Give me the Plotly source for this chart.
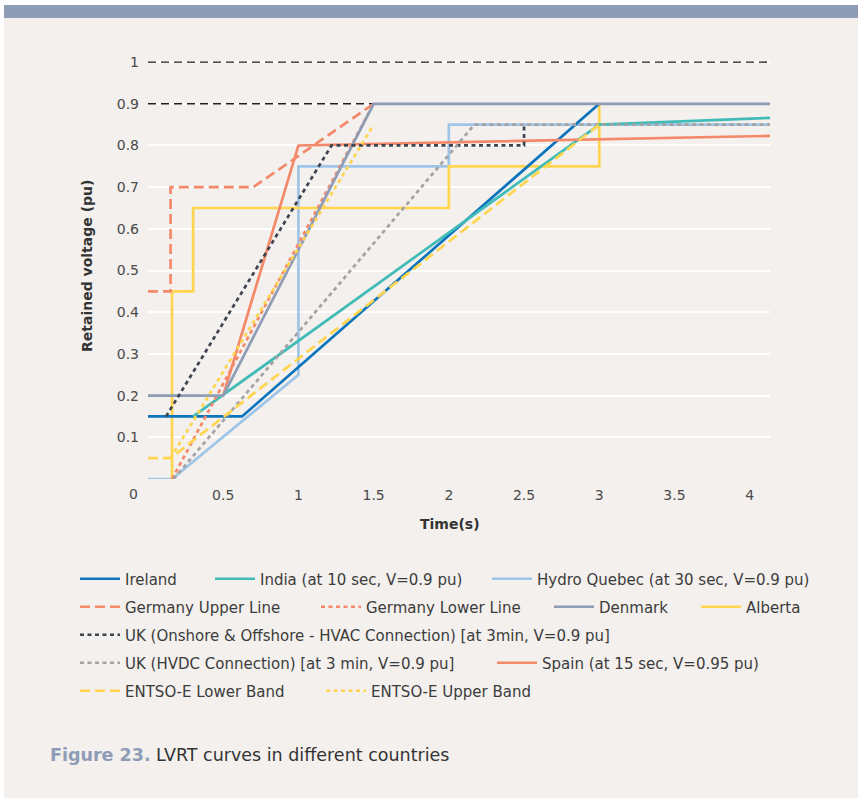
import plotly.graph_objects as go

# ---------------- data (seconds, per-unit voltage) ----------------
X_END = 4.135

ireland_t = [0, 0.625, 3.0]
ireland_v = [0.15, 0.15, 0.90]

india_t = [0.30, 3.0, X_END]
india_v = [0.15, 0.85, 0.866]

hydro_t = [0, 0.16, 1.0, 1.0, 2.0, 2.0, X_END]
hydro_v = [0, 0, 0.25, 0.75, 0.75, 0.85, 0.85]

ger_up_t = [0, 0.15, 0.15, 0.70, 1.50]
ger_up_v = [0.45, 0.45, 0.70, 0.70, 0.90]

ger_low_t = [0.16, 1.50]
ger_low_v = [0.0, 0.90]

denmark_t = [0, 0.5, 1.5, X_END]
denmark_v = [0.20, 0.20, 0.90, 0.90]

alberta_t = [0.16, 0.16, 0.30, 0.30, 2.0, 2.0, 3.0, 3.0]
alberta_v = [0.0, 0.45, 0.45, 0.65, 0.65, 0.75, 0.75, 0.90]

uk_hvac_t = [0.12, 1.22, 2.5, 2.5]
uk_hvac_v = [0.15, 0.80, 0.80, 0.85]

uk_hvdc_t = [0.17, 2.17, X_END]
uk_hvdc_v = [0.0, 0.85, 0.85]

spain_t = [0.5, 1.0, X_END]
spain_v = [0.20, 0.80, 0.823]

entsoe_low_t = [0, 0.15, 3.0]
entsoe_low_v = [0.05, 0.05, 0.85]

entsoe_up_t = [0.15, 1.5]
entsoe_up_v = [0.05, 0.85]

ref_t = [0, X_END]
ref_1 = [1.0, 1.0]
ref_09 = [0.9, 0.9]

x_ticks = [0.5, 1, 1.5, 2, 2.5, 3, 3.5, 4]
x_tick_text = ["0.5", "1", "1.5", "2", "2.5", "3", "3.5", "4"]
y_ticks = [0.1, 0.2, 0.3, 0.4, 0.5, 0.6, 0.7, 0.8, 0.9, 1.0]
y_tick_text = ["0.1", "0.2", "0.3", "0.4", "0.5", "0.6", "0.7", "0.8", "0.9", "1"]

# ---------------- layout geometry ----------------
W, H = 858, 798
PL, PR, PT, PB = 148, 770, 60, 479
BG = "#F3F0ED"
FONT = "DejaVu Sans"

def px_x(px):
    return (px - PL) / (PR - PL)

def px_y(py):
    return (PB - py) / (PB - PT)

BLUE = "#0B74BD"
TEAL = "#41BBB7"
LBLUE = "#9EC4E8"
ORANGE = "#F4896A"
SLATE = "#8E9CB5"
YELLOW = "#FFD54F"
DARK = "#3E4550"
GREY = "#A3A3A3"

LW = 2.7
DASH = "10px,5px"
DOT = "4px,3.5px"

# (name, t, v, color, dash, legend symbol start px, row y px)
series = [
    ("Hydro Quebec (at 30 sec, V=0.9 pu)", hydro_t, hydro_v, LBLUE, "solid", 488, 579),
    ("Alberta", alberta_t, alberta_v, YELLOW, "solid", 697, 607),
    ("Ireland", ireland_t, ireland_v, BLUE, "solid", 76, 579),
    ("India (at 10 sec, V=0.9 pu)", india_t, india_v, TEAL, "solid", 211, 579),
    ("Germany Upper Line", ger_up_t, ger_up_v, ORANGE, DASH, 76, 607),
    ("Germany Lower Line", ger_low_t, ger_low_v, ORANGE, DOT, 317, 607),
    ("Spain (at 15 sec, V=0.95 pu)", spain_t, spain_v, ORANGE, "solid", 493, 663),
    ("Denmark", denmark_t, denmark_v, SLATE, "solid", 550, 607),
    ("UK (Onshore & Offshore - HVAC Connection) [at 3min, V=0.9 pu]", uk_hvac_t, uk_hvac_v, DARK, DOT, 76, 635),
    ("UK (HVDC Connection) [at 3 min, V=0.9 pu]", uk_hvdc_t, uk_hvdc_v, GREY, DOT, 76, 663),
    ("ENTSO-E Lower Band", entsoe_low_t, entsoe_low_v, YELLOW, DASH, 76, 691),
    ("ENTSO-E Upper Band", entsoe_up_t, entsoe_up_v, YELLOW, DOT, 322, 691),
]

fig = go.Figure()

# reference lines (no legend)
for yy in (ref_1, ref_09):
    fig.add_trace(go.Scatter(x=ref_t, y=yy, mode="lines", showlegend=False,
                             hoverinfo="skip",
                             line=dict(color="#1E1E1E", width=1.4, dash="8px,5px")))

LEG_OFF = 1  # legend box left relative to the symbol start
legend_layouts = {}
for i, (name, t, v, color, dash, sx, ry) in enumerate(series):
    key = "legend" if i == 0 else f"legend{i + 1}"
    fig.add_trace(go.Scatter(x=t, y=v, mode="lines", name=name, legend=key,
                             line=dict(color=color, width=LW, dash=dash)))
    legend_layouts[key] = dict(
        x=px_x(sx - LEG_OFF), y=px_y(ry), xanchor="left", yanchor="middle",
        orientation="h", bgcolor="rgba(0,0,0,0)", borderwidth=0,
        itemwidth=40, font=dict(family=FONT, size=15, color="#3C3C3C"),
        itemclick=False, itemdoubleclick=False,
    )

fig.update_layout(
    width=W, height=H,
    margin=dict(l=PL, r=W - PR, t=PT, b=H - PB),
    paper_bgcolor=BG, plot_bgcolor=BG,
    font=dict(family=FONT, color="#4A4A4A"),
    showlegend=True,
    **legend_layouts,
)

fig.update_xaxes(
    range=[0, X_END], tickvals=x_ticks, ticktext=x_tick_text,
    showgrid=False, zeroline=False, showline=False, ticks="",
    tickfont=dict(family=FONT, size=14, color="#4A4A4A"),
    ticklabelstandoff=6, fixedrange=True,
)
fig.update_yaxes(
    range=[0, 1.005], tickvals=[0] + y_ticks, ticktext=[""] + y_tick_text,
    showgrid=True, gridcolor="#FFFFFF", gridwidth=2,
    zeroline=False, showline=False, ticks="",
    tickfont=dict(family=FONT, size=14, color="#4A4A4A"),
    ticklabelstandoff=8, fixedrange=True,
)

annotations = [
    dict(text="0", x=px_x(133), y=px_y(494), xref="paper", yref="paper",
         showarrow=False, xanchor="center", yanchor="middle",
         font=dict(family=FONT, size=14, color="#4A4A4A")),
    dict(text="<b>Retained voltage (pu)</b>", x=px_x(87), y=px_y(266),
         xref="paper", yref="paper", showarrow=False, textangle=-90,
         xanchor="center", yanchor="middle",
         font=dict(family=FONT, size=14, color="#333333")),
    dict(text="<b>Time(s)</b>", x=px_x(450), y=px_y(524),
         xref="paper", yref="paper", showarrow=False,
         xanchor="center", yanchor="middle",
         font=dict(family=FONT, size=14, color="#333333")),
    dict(text="<b><span style='color:#8E9CB5'>Figure 23.</span></b> LVRT curves in different countries",
         x=px_x(48), y=px_y(755), xref="paper", yref="paper", showarrow=False,
         xanchor="left", yanchor="middle",
         font=dict(family=FONT, size=17.5, color="#333333")),
]
fig.update_layout(annotations=annotations)

shapes = [
    # top band
    dict(type="rect", xref="paper", yref="paper", x0=px_x(4), x1=px_x(W + 5),
         y0=px_y(18), y1=px_y(5), fillcolor="#8E9CB5", line=dict(width=0), layer="above"),
    # white margins
    dict(type="rect", xref="paper", yref="paper", x0=px_x(-5), x1=px_x(W + 5),
         y0=px_y(5), y1=px_y(-5), fillcolor="#FFFFFF", line=dict(width=0), layer="above"),
    dict(type="rect", xref="paper", yref="paper", x0=px_x(-5), x1=px_x(4),
         y0=px_y(H + 5), y1=px_y(-5), fillcolor="#FFFFFF", line=dict(width=0), layer="above"),
]
fig.update_layout(shapes=shapes)

fig.write_html("out.html", config={"displayModeBar": False},
               post_script="document.body.style.margin='0';")
